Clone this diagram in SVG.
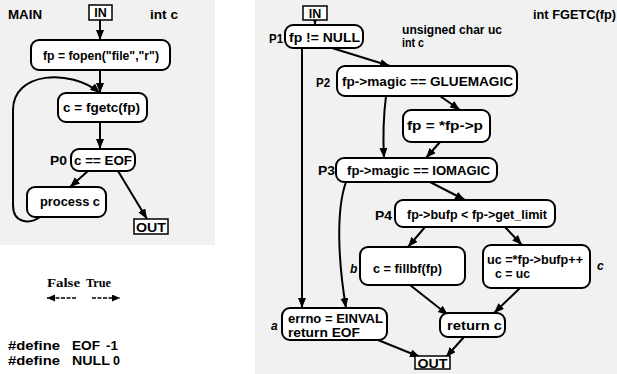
<svg xmlns="http://www.w3.org/2000/svg" width="617" height="374" viewBox="0 0 617 374">
<defs>
<marker id="ah" markerUnits="userSpaceOnUse" markerWidth="12" markerHeight="10" refX="10" refY="4" orient="auto">
<path d="M0,0 L10,4 L0,8 Z" fill="#000"/>
</marker>
<marker id="ahs" markerUnits="userSpaceOnUse" markerWidth="10" markerHeight="8" refX="8" refY="3.5" orient="auto">
<path d="M0,0 L8,3.5 L0,7 Z" fill="#000"/>
</marker>
</defs>
<style>
.bg{fill:#f1f1f1}
.n{fill:#fff;stroke:#000;stroke-width:2}
.t{font-family:"Liberation Sans",Arial,sans-serif;font-weight:bold;font-size:12.5px;fill:#000}
.i{font-family:"Liberation Sans",Arial,sans-serif;font-style:italic;font-weight:bold;font-size:12px;fill:#000}
.s{font-family:"Liberation Serif","Times New Roman",serif;font-weight:bold;font-size:12px;fill:#000}
.e{fill:none;stroke:#000;stroke-width:2;marker-end:url(#ah)}
.lg{fill:none;stroke:#000;stroke-width:1.5;stroke-dasharray:4,1.5;marker-end:url(#ahs)}
</style>
<rect width="617" height="374" fill="#fff"/>
<rect class="bg" x="0" y="0" width="215" height="245"/>
<rect class="bg" x="255" y="0" width="362" height="374"/>

<text class="t" x="8" y="19" textLength="34" lengthAdjust="spacingAndGlyphs">MAIN</text>
<text class="t" x="150" y="19" textLength="28" lengthAdjust="spacingAndGlyphs">int c</text>

<g id="connectors">
<path class="e" d="M100,20 L100,40"/>
<path class="e" d="M100,70 L100,93"/>
<path class="e" d="M100,122 L100,149"/>
<path class="e" d="M88,171 L70,187"/>
<path class="e" d="M118,171 L147,219"/>
<path class="e" d="M40,217 C30,224 13,224 13,205 L13,110 C13,72 70,68 100,93"/>
<path class="e" d="M315,20 L315,25"/>
<path class="e" d="M332,48 L390,66"/>
<path class="e" d="M302,48 L302,308"/>
<path class="e" d="M440,96 L460,110"/>
<path class="e" d="M386,96 C383,120 383,140 384,158"/>
<path class="e" d="M440,142 L426,158"/>
<path class="e" d="M346,182 C336,210 338,260 346,308"/>
<path class="e" d="M430,182 L465,200"/>
<path class="e" d="M425,227 L408,247"/>
<path class="e" d="M505,227 L522,245"/>
<path class="e" d="M410,285 L448,315"/>
<path class="e" d="M520,288 L494,313"/>
<path class="e" d="M378,340 L420,357"/>
<path class="e" d="M464,337 L446,357"/>
</g>

<g id="main_in">
<rect x="89" y="5" width="23" height="15" fill="#fff" stroke="#000" stroke-width="1.5"/>
<text class="t" x="100.5" y="17" text-anchor="middle">IN</text>
</g>
<g id="fopen">
<rect class="n" x="31" y="40" width="139" height="30" rx="8"/>
<text class="t" x="43" y="60" textLength="116" lengthAdjust="spacingAndGlyphs">fp = fopen("file","r")</text>
</g>
<g id="fgetc">
<rect class="n" x="58" y="93" width="89" height="29" rx="8"/>
<text class="t" x="63" y="112" textLength="77" lengthAdjust="spacingAndGlyphs">c = fgetc(fp)</text>
</g>
<g id="p0">
<text class="t" x="50" y="165" textLength="17" lengthAdjust="spacingAndGlyphs">P0</text>
<rect class="n" x="71" y="149" width="64" height="22" rx="8"/>
<text class="t" x="74" y="165" textLength="58" lengthAdjust="spacingAndGlyphs">c == EOF</text>
</g>
<g id="process">
<rect class="n" x="27" y="187" width="79" height="30" rx="8"/>
<text class="t" x="40" y="206" textLength="60" lengthAdjust="spacingAndGlyphs">process c</text>
</g>
<g id="main_out">
<rect x="134" y="219" width="34" height="15" fill="#fff" stroke="#000" stroke-width="1.5"/>
<text class="t" x="151" y="232" text-anchor="middle" textLength="30" lengthAdjust="spacingAndGlyphs">OUT</text>
</g>

<g id="legend">
<text class="s" x="47" y="287" textLength="33" lengthAdjust="spacingAndGlyphs">False</text>
<text class="s" x="86" y="287" textLength="25" lengthAdjust="spacingAndGlyphs">True</text>
<path class="lg" d="M76,298 L47,298"/>
<path class="lg" d="M92,298 L120,298"/>
</g>
<g id="defines">
<text class="t" x="8" y="350" textLength="52" lengthAdjust="spacingAndGlyphs">#define</text>
<text class="t" x="72" y="350" textLength="28" lengthAdjust="spacingAndGlyphs">EOF</text>
<text class="t" x="106" y="350" textLength="12" lengthAdjust="spacingAndGlyphs">-1</text>
<text class="t" x="8" y="365" textLength="52" lengthAdjust="spacingAndGlyphs">#define</text>
<text class="t" x="72" y="365" textLength="38" lengthAdjust="spacingAndGlyphs">NULL</text>
<text class="t" x="113" y="365">0</text>
</g>

<text class="t" x="533" y="19" textLength="83" lengthAdjust="spacingAndGlyphs">int FGETC(fp)</text>
<text class="t" x="402" y="34" textLength="100" lengthAdjust="spacingAndGlyphs">unsigned char uc</text>
<text class="t" x="402" y="47" textLength="22" lengthAdjust="spacingAndGlyphs">int c</text>

<g id="fg_in">
<rect x="303" y="6" width="24" height="14" fill="#fff" stroke="#000" stroke-width="1.5"/>
<text class="t" x="315" y="17.5" text-anchor="middle">IN</text>
</g>
<g id="p1">
<text class="t" x="269" y="43" textLength="14" lengthAdjust="spacingAndGlyphs">P1</text>
<rect class="n" x="285" y="25" width="78" height="23" rx="8"/>
<text class="t" x="289" y="42" textLength="71" lengthAdjust="spacingAndGlyphs">fp != NULL</text>
</g>
<g id="p2">
<text class="t" x="316" y="87" textLength="14" lengthAdjust="spacingAndGlyphs">P2</text>
<rect class="n" x="337" y="66" width="180" height="30" rx="8"/>
<text class="t" x="342" y="86" textLength="171" lengthAdjust="spacingAndGlyphs">fp-&gt;magic == GLUEMAGIC</text>
</g>
<g id="deref">
<rect class="n" x="403" y="110" width="87" height="32" rx="8"/>
<text class="t" x="407" y="130" textLength="76" lengthAdjust="spacingAndGlyphs">fp = *fp-&gt;p</text>
</g>
<g id="p3">
<text class="t" x="318" y="175" textLength="17" lengthAdjust="spacingAndGlyphs">P3</text>
<rect class="n" x="336" y="158" width="161" height="24" rx="8"/>
<text class="t" x="347" y="175" textLength="143" lengthAdjust="spacingAndGlyphs">fp-&gt;magic == IOMAGIC</text>
</g>
<g id="p4">
<text class="t" x="375" y="220" textLength="17" lengthAdjust="spacingAndGlyphs">P4</text>
<rect class="n" x="395" y="200" width="160" height="27" rx="8"/>
<text class="t" x="407" y="219" textLength="140" lengthAdjust="spacingAndGlyphs">fp-&gt;bufp &lt; fp-&gt;get_limit</text>
</g>
<g id="fillbf">
<text class="i" x="350" y="273">b</text>
<rect class="n" x="360" y="247" width="105" height="38" rx="8"/>
<text class="t" x="373" y="273" textLength="69" lengthAdjust="spacingAndGlyphs">c = fillbf(fp)</text>
</g>
<g id="ucbox">
<rect class="n" x="483" y="245" width="107" height="43" rx="8"/>
<text class="t" x="487" y="264" textLength="96" lengthAdjust="spacingAndGlyphs">uc =*fp-&gt;bufp++</text>
<text class="t" x="495" y="278" textLength="35" lengthAdjust="spacingAndGlyphs">c = uc</text>
<text class="i" x="597" y="270">c</text>
</g>
<g id="retc">
<rect class="n" x="440" y="313" width="65" height="24" rx="8"/>
<text class="t" x="447" y="330" textLength="55" lengthAdjust="spacingAndGlyphs">return c</text>
</g>
<g id="errno">
<text class="i" x="271" y="330">a</text>
<rect class="n" x="282" y="308" width="105" height="32" rx="8"/>
<text class="t" x="288" y="323" textLength="95" lengthAdjust="spacingAndGlyphs">errno = EINVAL</text>
<text class="t" x="288" y="337" textLength="72" lengthAdjust="spacingAndGlyphs">return EOF</text>
</g>
<g id="fg_out">
<rect x="415" y="356" width="35" height="13" fill="#fff" stroke="#000" stroke-width="1.5"/>
<text class="t" x="432.5" y="367.5" text-anchor="middle" textLength="30" lengthAdjust="spacingAndGlyphs">OUT</text>
</g>
</svg>
